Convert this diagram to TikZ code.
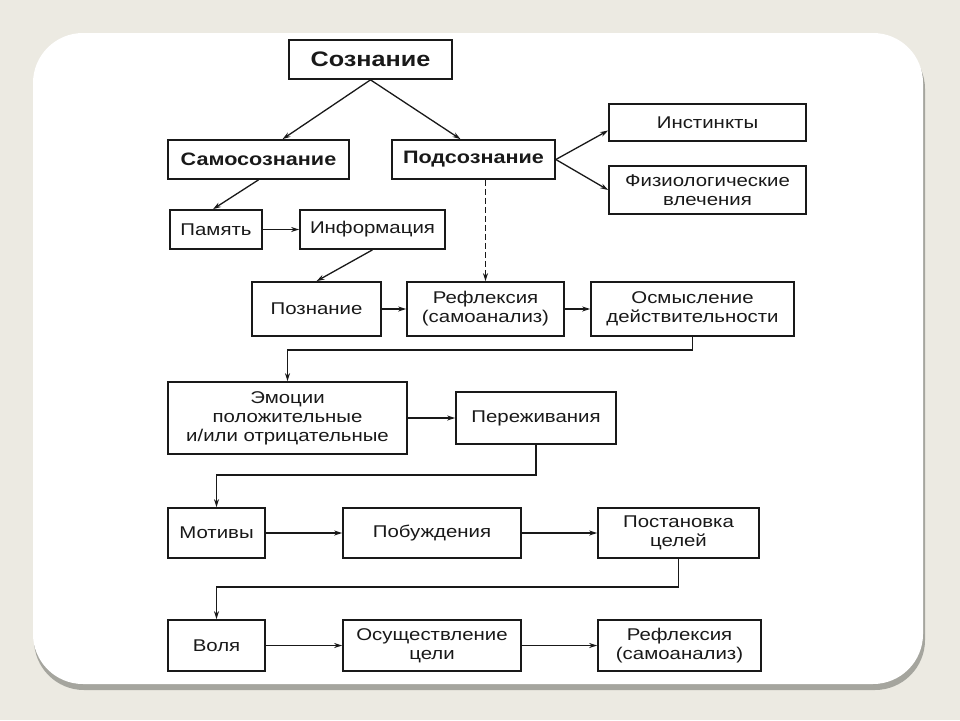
\documentclass[tikz,border=0pt]{standalone}
\usepackage{fontspec}
\setmainfont{Liberation Sans}[FakeStretch=1.2]
\usepackage{tikz}
\usetikzlibrary{arrows.meta, positioning, calc}
\definecolor{pagecolor}{RGB}{236,234,226}
\definecolor{shadowcolor}{RGB}{165,165,158}
\definecolor{inkcolor}{RGB}{25,25,25}

\begin{document}
\begin{tikzpicture}[
    x=1pt, y=-1pt,
    box/.style={draw=inkcolor, line width=1.7pt, fill=white, align=center, text=inkcolor, inner sep=2pt, font=\fontsize{17}{19}\selectfont},
    boldbox/.style={box, font=\fontsize{18}{20}\selectfont\bfseries},
    arrow/.style={-{Stealth[length=8pt, width=5pt]}, line width=1.3pt, draw=inkcolor}
]
    % Background slide
    \fill[pagecolor] (0,0) rectangle (960,720);
    \useasboundingbox (0,0) rectangle (960,720);
    \fill[shadowcolor, rounded corners=50pt] (34,39) rectangle (925,690);
    \fill[white, rounded corners=50pt] (33,33) rectangle (923,684);

    % Top level
    \node[box, font=\fontsize{21}{24}\selectfont\bfseries, minimum width=163pt, minimum height=39pt] (soz) at (370.5,59.5) {Сознание};
    \node[boldbox, minimum width=181pt, minimum height=39pt] (samo) at (258.5,159.5) {Самосознание};
    \node[boldbox, minimum width=163pt, minimum height=39pt] (pods) at (473.5,159.5) {Подсознание};
    \node[box, minimum width=197pt, minimum height=37pt] (inst) at (707.5,122.5) {Инстинкты};
    \node[box, minimum width=197pt, minimum height=48pt] (fiz) at (707.5,190) {Физиологические\\влечения};

    % Second level
    \node[box, minimum width=92pt, minimum height=39pt] (pam) at (216,229.5) {Память};
    \node[box, minimum width=145pt, minimum height=39pt] (inf) at (372.5,229.5) {Информация};
    \node[box, minimum width=129pt, minimum height=54pt] (pozn) at (316.5,309) {Познание};
    \node[box, minimum width=157pt, minimum height=54pt] (refl) at (485.5,309) {Рефлексия\\(самоанализ)};
    \node[box, minimum width=203pt, minimum height=54pt] (osm) at (692.5,309) {Осмысление\\действительности};

    % Emotions
    \node[box, minimum width=239pt, minimum height=72pt] (emo) at (287.5,418) {Эмоции\\положительные\\и/или отрицательные};
    \node[box, minimum width=160pt, minimum height=52pt] (pere) at (536,418) {Переживания};

    % Motives
    \node[box, minimum width=97pt, minimum height=50pt] (mot) at (216.5,533) {Мотивы};
    \node[box, minimum width=178pt, minimum height=50pt] (pob) at (432,533) {Побуждения};
    \node[box, minimum width=161pt, minimum height=50pt] (post) at (678.5,533) {Постановка\\целей};

    % Will
    \node[box, minimum width=97pt, minimum height=51pt] (vol) at (216.5,645.5) {Воля};
    \node[box, minimum width=178pt, minimum height=51pt] (osu) at (432,645.5) {Осуществление\\цели};
    \node[box, minimum width=163pt, minimum height=51pt] (refltwo) at (679.5,645.5) {Рефлексия\\(самоанализ)};

    % Arrows
    \draw[arrow] (soz.south) -- ([xshift=24pt]samo.north);
    \draw[arrow] (soz.south) -- ([xshift=-13pt]pods.north);
    \draw[arrow] (pods.east) -- ([yshift=-8pt]inst.west);
    \draw[arrow] (pods.east) -- (fiz.west);
    \draw[arrow] (samo.south) -- ([xshift=-3pt]pam.north);
    \draw[arrow] (pam) -- (inf);
    \draw[arrow] (inf.south) -- (pozn.north);
    \draw[arrow, dash pattern=on 6pt off 3pt] (pods.south -| refl.north) -- (refl.north);
    \draw[arrow] (pozn) -- (refl);
    \draw[arrow] (refl) -- (osm);
    \draw[arrow] (osm.south) -- ++(0,13) -| (emo.north);
    \draw[arrow] (emo) -- (pere);
    \draw[arrow] (pere.south) -- ++(0,30) -| (mot.north);
    \draw[arrow] (mot) -- (pob);
    \draw[arrow] (pob) -- (post);
    \draw[arrow] (post.south) -- ++(0,28) -| (vol.north);
    \draw[arrow] (vol) -- (osu);
    \draw[arrow] (osu) -- (refltwo);
\end{tikzpicture}
\end{document}
